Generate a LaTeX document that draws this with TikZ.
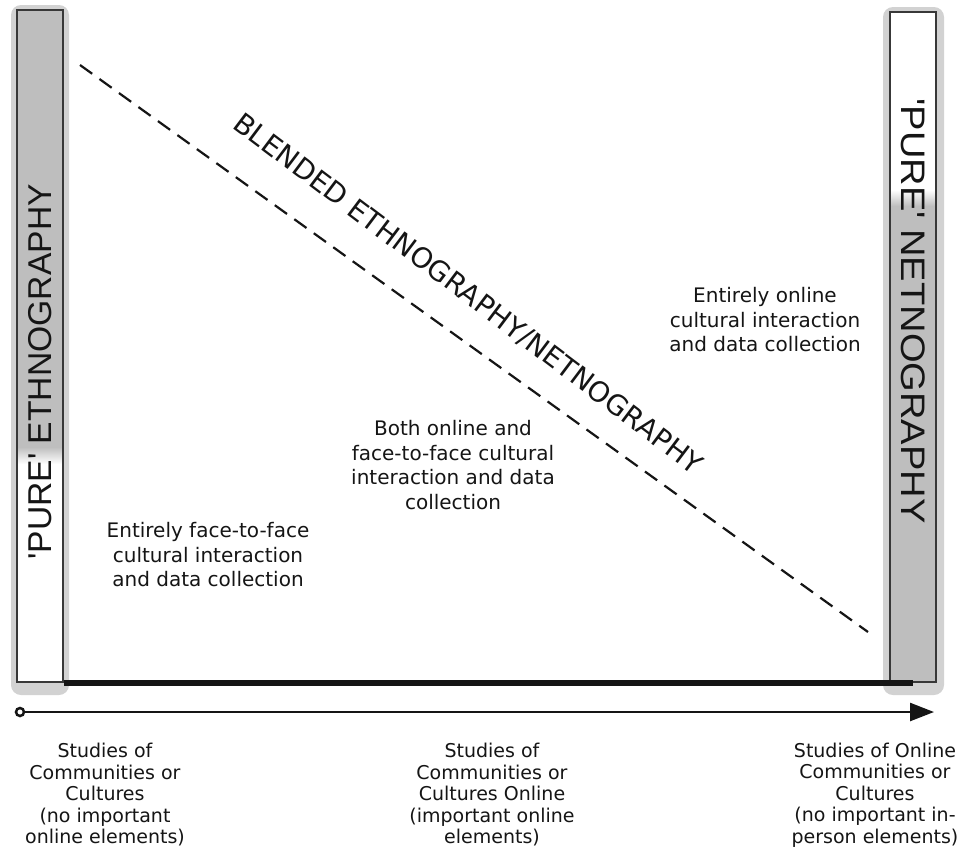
\documentclass[tikz,border=0pt]{standalone}
\usepackage{fontspec}
\setmainfont{DejaVu Sans}
\newfontfamily\barfont[FakeStretch=1.02]{Liberation Sans}
\newfontfamily\barfontwide[FakeStretch=1.12]{Liberation Sans}
\usetikzlibrary{arrows.meta,positioning,calc}
\definecolor{ngInk}  {HTML}{151515}
\definecolor{ngBar}  {HTML}{BEBEBE}
\definecolor{ngEdge} {HTML}{383838}
\definecolor{ngShade}{HTML}{D2D2D2}
\tikzset{
  pillar/.style={draw=ngEdge,line width=2pt,minimum width=46pt,
                 minimum height=672pt,inner sep=0pt},
  pillarlabel/.style={font=\barfont\fontsize{33}{33}\selectfont,text=ngInk},
  blendlabel/.style={font=\fontsize{28}{28}\selectfont,text=ngInk},
  note/.style={align=center,font=\fontsize{20}{24.5}\selectfont,text=ngInk},
  axisnote/.style={align=center,font=\fontsize{19}{21.5}\selectfont,text=ngInk},
}

\begin{document}
\begin{tikzpicture}[x=1pt,y=-1pt]
  \useasboundingbox[fill=white] (0,0) rectangle (965,865);

  % soft shadows behind the two pillars
  \fill[ngShade,rounded corners=10pt] (11,5) rectangle (69,695);
  \fill[ngShade,rounded corners=10pt] (883,7) rectangle (944,695);

  % grey halves of the pillars
  \fill[white] (17,10) rectangle (63,682);
  \fill[ngBar] (17,10) rectangle (63,447);
  \shade[top color=ngBar,bottom color=white] (17,447) rectangle (63,464);
  \fill[white] (890,12) rectangle (936,682);
  \shade[top color=white,bottom color=ngBar] (890,190) rectangle (936,206);
  \fill[ngBar] (890,206) rectangle (936,682);

  \node[pillar] (eth) at (40,346) {};
  \node[pillar,minimum height=670pt] (net) at (913,347) {};

  \node[pillarlabel,rotate=90]  (ethlabel) at (40,372)  {'PURE' ETHNOGRAPHY};
  \node[pillarlabel,font=\barfontwide\fontsize{34}{34}\selectfont,rotate=-90]
        (netlabel) at (913,311) {'PURE' NETNOGRAPHY};

  % base line and axis
  \draw[ngInk,line width=6.5pt] (eth.south east) -- (net.south);
  \coordinate (axstart) at (20,712);
  \coordinate (axend)   at (934,712);
  \draw[ngInk,line width=2.5pt,-{Triangle[length=24pt,width=18pt]}] (axstart) -- (axend);
  \draw[ngInk,fill=white,line width=2.5pt] (axstart) circle (4pt);

  % blended zone
  \coordinate (blendA) at (80,65);
  \coordinate (blendB) at (868,632);
  \draw[ngInk,line width=2.2pt,dash pattern=on 15pt off 9pt] (blendA) -- (blendB);
  \node[blendlabel,rotate=-37] (blend) at (468,294) {BLENDED ETHNOGRAPHY/NETNOGRAPHY};

  \node[note] (face)   at (208,555) {Entirely face-to-face\\cultural interaction\\and data collection};
  \node[note] (both)   at (453,465) {Both online and\\face-to-face cultural\\interaction and data\\collection};
  \node[note] (online) at (765,320) {Entirely online\\cultural interaction\\and data collection};

  \node[axisnote] (offline) at (105,795) {Studies of\\Communities or\\Cultures\\(no important\\online elements)};
  \node[axisnote] (mixed)   at (492,795) {Studies of\\Communities or\\Cultures Online\\(important online\\elements)};
  \node[axisnote] (netonly) at (875,795) {Studies of Online\\Communities or\\Cultures\\(no important in-\\person elements)};
\end{tikzpicture}
\end{document}
